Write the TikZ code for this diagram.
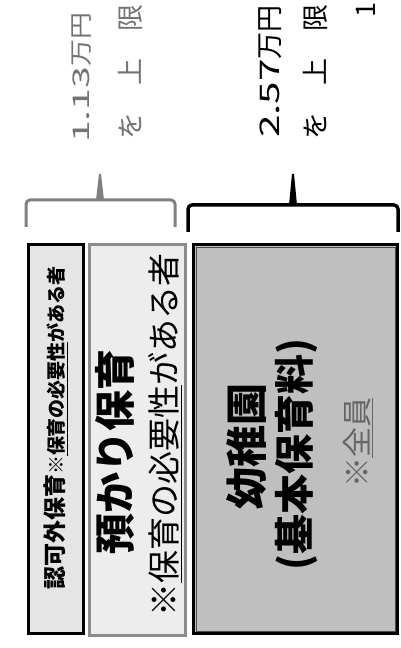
\documentclass[tikz,border=0pt]{standalone}
\usepackage{fontspec}
\newfontfamily\jp{Noto Sans CJK JP}
\newcommand{\fs}[1]{\fontsize{#1}{#1}\selectfont}
\tikzset{
  boxa/.style={draw=black, line width=3pt, fill=black!10, inner sep=0pt},
  boxb/.style={draw=black!45, line width=2.5pt, fill=black!7, inner sep=0pt},
  boxc/.style={draw=black, line width=3pt, fill=black!25, inner sep=0pt},
  vtext/.style={rotate=90, inner sep=0pt, font=\jp},
  graybrace/.style={draw=black!50, line width=3pt, line join=round},
  blackbrace/.style={draw=black, line width=3.5pt, line join=round},
}
\begin{document}
\begin{tikzpicture}[x=1pt,y=1pt]
\useasboundingbox (0,0) rectangle (401,648);
\clip (0,0) rectangle (401,648);
% boxes
\node[boxa, minimum width=55pt, minimum height=389pt] (b1) at (56,209) {};
\node[boxb, minimum width=96pt, minimum height=391pt] (b2) at (137.5,208) {};
\node[boxc, minimum width=204pt, minimum height=389pt] (b3) at (295.5,209) {};
\draw[black!70, line width=0.7pt] ([shift={(4,4)}]b3.south west) rectangle ([shift={(-4,-4)}]b3.north east);
% box texts
\node[vtext] (t1) at (56,220) {\bfseries{\fs{23}認可外保育}{\fs{19}※\underline{保育の必要性}がある者}};
\node[vtext] (t2a) at (115,196) {\bfseries\fs{41}預かり保育};
\node[vtext] (t2b) at (165,213) {\fs{33}※\underline{保育の必要性}がある者};
\node[vtext] (t3a) at (247,201) {\bfseries\fs{42}幼稚園};
\node[vtext] (t3b) at (296,193) {\bfseries\fs{40}(基本保育料)};
\node[vtext, text=black!60] (t3c) at (358,205) {\fs{30}※\underline{全員}};
% braces
\draw[graybrace] (26,421) -- (26,444) to[out=90,in=180] (30,448) -- (171,448) to[out=0,in=90] (175,444) -- (175,421);
\fill[black!50] (96,448) -- (99,474) -- (101,474) -- (104,448) -- cycle;
\draw[blackbrace] (188,416) -- (188,439) to[out=90,in=180] (192,443) -- (394,443) to[out=0,in=90] (398,439) -- (398,416);
\fill[black] (289,443) -- (292,474) -- (294,474) -- (297,443) -- cycle;
% right-hand texts
\node[vtext, anchor=west, text=black!55] (g1) at (82,505) {\scalebox{1}[0.85]{\fs{27}\scalebox{1.45}[1]{1.13}万円}};
\node[vtext, anchor=west, text=black!55] (g2) at (130,508) {\fs{27}を　上　限};
\node[vtext, anchor=west] (k1) at (270,510) {\fs{27}\scalebox{1.5}[1]{2.57}万円};
\node[vtext, anchor=west] (k2) at (315,508) {\fs{27}を　上　限};
\node[vtext, anchor=west] (k3) at (366,630) {\fs{27}1};
\end{tikzpicture}
\end{document}
